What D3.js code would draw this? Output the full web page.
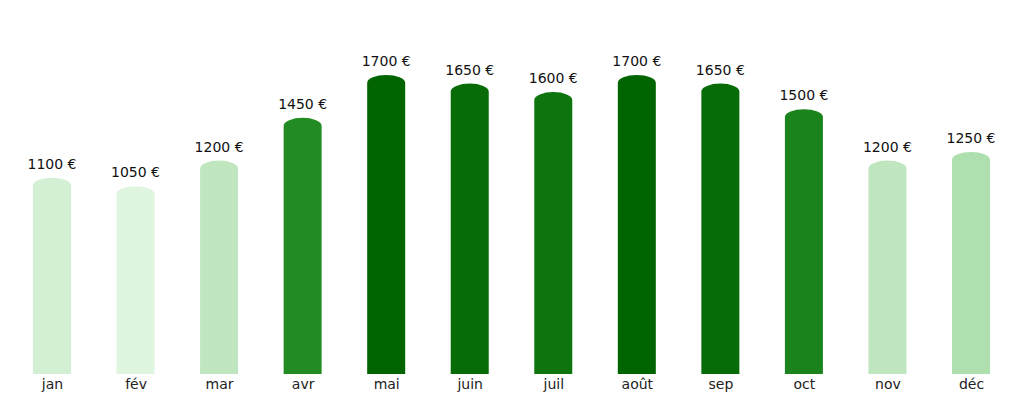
<!DOCTYPE html>
<html><head><meta charset="utf-8">
<script src="https://cdn.jsdelivr.net/npm/d3@7"></script>
<style>body{margin:0;background:#fff;font-family:"DejaVu Sans",sans-serif}</style>
</head><body><svg id="c" width="1024" height="404"></svg>
<script>
const months = ["jan","fév","mar","avr","mai","juin","juil","août","sep","oct","nov","déc"];
const values = [1100,1050,1200,1450,1700,1650,1600,1700,1650,1500,1200,1250];

const svg = d3.select("#c");
const baseY = 374, barW = 38, capR = 8;

const x = d3.scalePoint().domain(months).range([52, 971]);
const y = d3.scaleLinear().domain([0, 1700]).range([baseY, 83]);
const color = d3.scaleLinear()
  .domain([1050, 1200, 1250, 1450, 1700])
  .range(["#dff5df", "#bfe6bf", "#aedfae", "#228b22", "#006400"]);

const g = svg.append("g");
months.forEach((m, i) => {
  const cx = x(m), top = y(values[i]);
  g.append("path")
    .attr("d", `M${cx - barW/2},${baseY} L${cx - barW/2},${top} A${barW/2},${capR} 0 0 1 ${cx + barW/2},${top} L${cx + barW/2},${baseY} Z`)
    .attr("fill", color(values[i]));
  g.append("text")
    .attr("x", cx).attr("y", top - capR - 9)
    .attr("text-anchor", "middle")
    .style("font-size", "14px").style("fill", "#111")
    .text(values[i] + " €");
});

const axis = d3.axisBottom(x).tickSize(0).tickPadding(5);
svg.append("g").attr("transform", `translate(0,${baseY})`).call(axis)
  .call(s => s.select(".domain").remove())
  .selectAll("text").style("font-size", "14px").style("font-family", "DejaVu Sans").attr("fill", "#222");
</script></body></html>
